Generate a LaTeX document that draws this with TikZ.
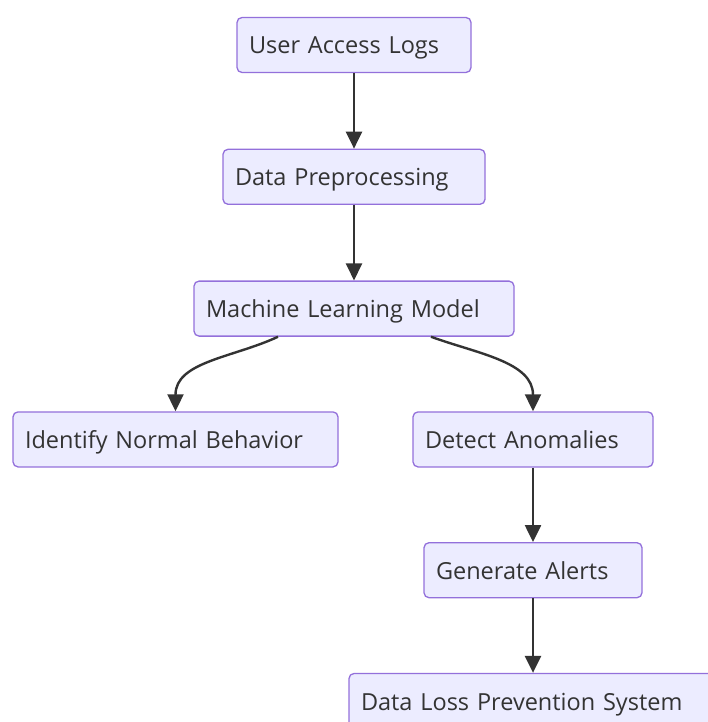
\documentclass[tikz,border=0pt]{standalone}
\usepackage{fontspec}
\setmainfont{Open Sans}
\usepackage{xcolor}
\usepackage{tikz}
\definecolor{boxfill}{HTML}{ECECFF}
\definecolor{boxline}{HTML}{9370DB}
\definecolor{inkgray}{HTML}{333333}
\usetikzlibrary{arrows.meta, positioning}

\begin{document}
\begin{tikzpicture}[
        node distance=75.5pt,
        box/.style={rectangle, draw=boxline, fill=boxfill, line width=1.3pt,
                    minimum height=55pt, inner xsep=12pt, align=left,
                    text height=20pt, text depth=2pt,
                    rounded corners=5pt, text=inkgray,
                    font=\fontsize{23.5}{27}\selectfont},
        arrow/.style={-{Triangle[length=17pt, width=16pt]}, line width=2.4pt, inkgray}
    ]
        \useasboundingbox (0,0) rectangle (707pt,-722pt);

        \node[box, text width=210pt] (logs) at (354pt,-45pt) {User Access Logs};
        \node[box, text width=238pt, below=of logs] (prep) {Data Preprocessing};
        \node[box, text width=296pt, below=of prep] (model) {Machine Learning Model};
        \node[box, text width=301pt, below=74.5pt of model, xshift=-178.5pt] (normal) {Identify Normal Behavior};
        \node[box, text width=216pt, below=74.5pt of model, xshift=179pt] (anomaly) {Detect Anomalies};
        \node[box, text width=194pt, below=74.5pt of anomaly] (alerts) {Generate Alerts};
        \node[box, text width=344pt, below=74.5pt of alerts] (dlp) {Data Loss Prevention System};

        \draw[arrow] (logs) -- (prep);
        \draw[arrow] (prep) -- (model);
        \draw[arrow] ([xshift=-76pt]model.south) to[out=-155, in=90] (normal.north);
        \draw[arrow] ([xshift=77pt]model.south) to[out=-20, in=90] (anomaly.north);
        \draw[arrow] (anomaly) -- (alerts);
        \draw[arrow] (alerts) -- (dlp);
    \end{tikzpicture}
\end{document}
